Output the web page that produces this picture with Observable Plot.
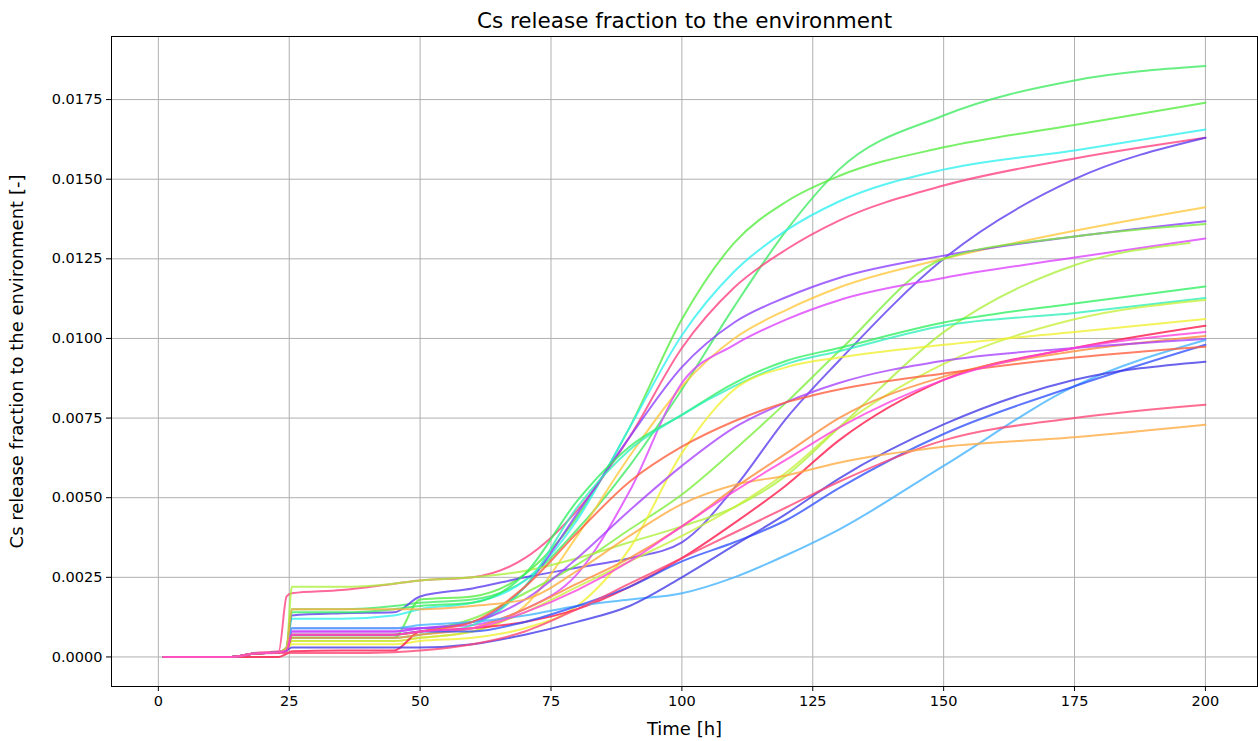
<!DOCTYPE html>
<html><head><meta charset="utf-8">
<script src="https://cdn.jsdelivr.net/npm/d3@7"></script>
<script src="https://cdn.jsdelivr.net/npm/@observablehq/plot@0.6"></script>
<style>body{margin:0;background:#fff;}</style>
</head><body><div id="chart"></div>
<script>
const times = [1, 14, 18, 23, 24.5, 25.5, 35, 45, 50, 60, 70, 80, 90, 100, 110, 120, 130, 150, 175, 200];
const xTicks = [0, 25, 50, 75, 100, 125, 150, 175, 200];
const yTicks = [0, 0.0025, 0.005, 0.0075, 0.01, 0.0125, 0.015, 0.0175];

const s01 = [0,0,0.0001,0.00015,0.0003,0.0015,0.0015,0.0016,0.0017,0.0018,0.0024,0.0040,0.0060,0.0084,0.0110,0.0134,0.0153,0.0170,0.0181,0.01855];
const s02 = [0,0,0.0001,0.00015,0.0002,0.0006,0.0006,0.0006,0.0018,0.0019,0.0026,0.0044,0.0072,0.0106,0.0130,0.0143,0.0151,0.0160,0.0167,0.0174];
const s03 = [0,0,0.0001,0.00015,0.0002,0.0012,0.0012,0.0013,0.0015,0.0017,0.0024,0.0043,0.0072,0.0101,0.0121,0.0134,0.0143,0.0153,0.0159,0.01656];
const s04 = [0,0,0.00012,0.00018,0.0019,0.0020,0.0021,0.0023,0.0024,0.0025,0.0031,0.0046,0.0069,0.0097,0.0116,0.0128,0.0137,0.0148,0.01565,0.0163];
const s05 = [0,0,0.0001,0.00015,0.0003,0.0013,0.00137,0.0014,0.0019,0.00215,0.0025,0.0028,0.0031,0.0036,0.0053,0.0075,0.0093,0.0125,0.0150,0.0163];
const s06 = [0,0,0.0001,0.00015,0.0002,0.0005,0.0005,0.0005,0.0006,0.0008,0.0016,0.0038,0.0063,0.0085,0.0100,0.0109,0.0116,0.0125,0.01338,0.01412];
const s07 = [0,0,0.0001,0.00015,0.0002,0.0008,0.0008,0.0008,0.0009,0.0011,0.0022,0.0045,0.0069,0.0091,0.0105,0.0113,0.0119,0.0126,0.0132,0.01368];
const s08 = [0,0,0.0001,0.00015,0.0002,0.0007,0.0007,0.0007,0.0008,0.0012,0.0020,0.0029,0.0040,0.0051,0.0065,0.0080,0.0096,0.0125,0.0132,0.01359];
const s09 = [0,0,0.0001,0.00015,0.0002,0.0008,0.0008,0.0008,0.0009,0.0010,0.0015,0.0026,0.0052,0.0086,0.0098,0.0106,0.0112,0.0119,0.01254,0.01314];
const s10 = [0,0,0.0001,0.00015,0.0003,0.0022,0.0022,0.0023,0.0024,0.0025,0.0027,0.0031,0.0036,0.0041,0.0047,0.0057,0.0072,0.0102,0.0123,0.0130];
const s11 = [0,0,0.0001,0.00015,0.0003,0.0014,0.0014,0.0015,0.0016,0.0017,0.0026,0.0049,0.0066,0.0076,0.0086,0.0093,0.0097,0.0105,0.0111,0.01163];
const s12 = [0,0,0.0001,0.00015,0.0002,0.0006,0.0006,0.0006,0.0007,0.0010,0.0022,0.0047,0.0065,0.0076,0.0085,0.0092,0.0096,0.0104,0.0108,0.01127];
const s13 = [0,0,0.0001,0.00015,0.0002,0.0005,0.0005,0.0005,0.0006,0.0008,0.0014,0.0022,0.0030,0.0038,0.0047,0.0058,0.0072,0.0092,0.0106,0.01121];
const s14 = [0,0,0.0001,0.00015,0.0002,0.0004,0.0004,0.0004,0.0005,0.0006,0.0009,0.0016,0.0034,0.0064,0.0084,0.0091,0.0094,0.0098,0.0102,0.01061];
const s15 = [0,0,0,0,0.0001,0.00018,0.0002,0.0002,0.0008,0.0009,0.0011,0.0015,0.0022,0.0031,0.0042,0.0054,0.0068,0.0087,0.0097,0.0104];
const s16 = [0,0,0.0001,0.00015,0.0002,0.0006,0.0006,0.0006,0.0007,0.0009,0.0015,0.0023,0.0031,0.0041,0.0053,0.0064,0.0075,0.0088,0.0096,0.01008];
const s17 = [0,0,0.0001,0.00015,0.0002,0.0009,0.0009,0.0009,0.0009,0.0011,0.0018,0.0031,0.0046,0.0060,0.0072,0.0080,0.0086,0.0093,0.0097,0.00998];
const s18 = [0,0,0.0001,0.00015,0.0002,0.0009,0.0009,0.0009,0.0010,0.0011,0.0013,0.0016,0.0018,0.0020,0.0025,0.0032,0.0040,0.0060,0.0085,0.00995];
const s19 = [0,0,0.0001,0.00015,0.0002,0.0007,0.0007,0.0007,0.0008,0.0008,0.0011,0.0016,0.0022,0.0030,0.0036,0.0043,0.0053,0.0070,0.0085,0.0098];
const s20 = [0,0,0.0001,0.00015,0.0002,0.0007,0.0007,0.0007,0.0008,0.0011,0.0022,0.0039,0.0055,0.0066,0.0074,0.0080,0.0084,0.0089,0.0094,0.00974];
const s21 = [0,0,0.0001,0.00015,0.0002,0.0003,0.0003,0.0003,0.0003,0.0004,0.0007,0.0011,0.0016,0.0025,0.0035,0.0045,0.0056,0.0073,0.0087,0.00927];
const s22 = [0,0,0.0001,0.00012,0.00012,0.00012,0.00012,0.00015,0.0002,0.0004,0.0008,0.0015,0.0023,0.0031,0.0039,0.0047,0.0055,0.0068,0.0075,0.00792];
const s23 = [0,0,0.0001,0.00015,0.0003,0.0015,0.0015,0.0015,0.0015,0.0016,0.0018,0.0027,0.0038,0.0048,0.0054,0.0057,0.0061,0.0066,0.0069,0.00729];
const s24 = [0,0,0.0001,0.00015,0.0002,0.0007,0.0007,0.0007,0.0008,0.0009,0.0014,0.0021,0.0030,0.0041,0.0052,0.0062,0.0072,0.0087,0.0097,0.0102];

const seriesValues = [s01,s02,s03,s04,s05,s06,s07,s08,s09,s10,s11,s12,s13,s14,s15,s16,s17,s18,s19,s20,s21,s22,s23,s24];
const seriesColors = ["#3dea62","#52ec3c","#2ef0f0","#ff3d7e","#5a38ee","#ffc63a","#8a3cff","#7aee3a","#dc40ff","#aaf03a","#2ef060","#2ef0b8","#c6f03a","#f0f02e","#ff1448","#ff8a3a","#a640ff","#40b2ff","#2e50ff","#ff5c3a","#4038e8","#ff4272","#ffaa40","#ff40dc"];
const seriesEnd = [200,200,200,200,200,200,200,200,200,197,200,200,200,200,200,200,200,200,200,200,200,200,200,200];

const rows = [];
seriesValues.forEach((vals, i) => {
  vals.forEach((v, j) => {
    const t = j === vals.length - 1 ? seriesEnd[i] : times[j];
    rows.push({id: i, t, v, color: seriesColors[i]});
  });
});

const chart = Plot.plot({
  width: 1258, height: 741,
  marginLeft: 111, marginRight: 1, marginTop: 36, marginBottom: 55,
  style: {fontFamily: "DejaVu Sans", fontSize: "14.5px", color: "#000", background: "#fff"},
  x: {domain: [-8.95, 209.95]},
  y: {domain: [-0.000928, 0.01948]},
  color: {type: "identity"},
  marks: [
    Plot.gridX(xTicks, {stroke: "#b0b0b0", strokeOpacity: 1, strokeWidth: 1}),
    Plot.gridY(yTicks, {stroke: "#b0b0b0", strokeOpacity: 1, strokeWidth: 1}),
    Plot.line(rows, {x: "t", y: "v", z: "id", stroke: "color", strokeWidth: 2, strokeOpacity: 0.78, curve: "monotone-x"}),
    Plot.frame({stroke: "#000", strokeWidth: 1}),
    Plot.axisX(xTicks, {tickSize: 5, tickPadding: 4, tickFormat: d => String(d), label: null, fontSize: 14.5}),
    Plot.axisY(yTicks, {tickSize: 5, tickPadding: 4, tickFormat: d3.format(".4f"), label: null, fontSize: 14.5}),
    Plot.text(["Time [h]"], {frameAnchor: "bottom", dy: 48, fontSize: 18}),
    Plot.text(["Cs release fraction to the environment [-]"], {frameAnchor: "left", textAnchor: "middle", dx: -94, rotate: -90, fontSize: 18}),
    Plot.text(["Cs release fraction to the environment"], {frameAnchor: "top", dy: -24, fontSize: 21.5})
  ]
});
document.getElementById("chart").appendChild(chart);
</script>
</body></html>
